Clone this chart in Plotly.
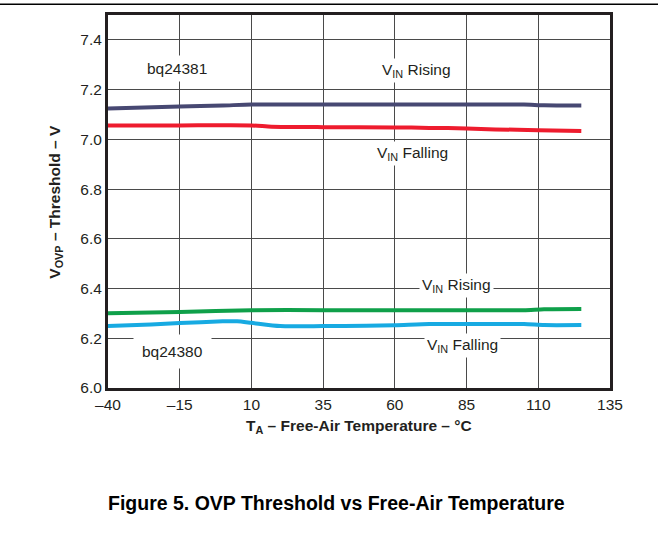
import plotly.graph_objects as go

# ---- data ----
temp_381_rising = [-40, -15, 0, 10, 35, 60, 85, 105, 112, 125]
vovp_381_rising = [7.124, 7.132, 7.136, 7.140, 7.140, 7.140, 7.140, 7.140, 7.137, 7.136]

temp_381_falling = [-40, -15, 10, 17, 35, 60, 72, 85, 95, 110, 125]
vovp_381_falling = [7.056, 7.056, 7.056, 7.051, 7.049, 7.048, 7.046, 7.044, 7.040, 7.037, 7.034]

temp_380_rising = [-40, -15, 10, 35, 60, 85, 105, 112, 125]
vovp_380_rising = [6.301, 6.306, 6.313, 6.313, 6.313, 6.313, 6.313, 6.317, 6.318]

temp_380_falling = [-40, -25, -15, 0, 5, 10, 20, 35, 50, 60, 72, 85, 105, 112, 125]
vovp_380_falling = [6.249, 6.255, 6.261, 6.268, 6.268, 6.262, 6.249, 6.249, 6.250, 6.252, 6.257, 6.257, 6.257, 6.253, 6.253]

x_ticks = [-40, -15, 10, 35, 60, 85, 110, 135]
x_tick_labels = ["–40", "–15", "10", "35", "60", "85", "110", "135"]
y_ticks = [6.0, 6.2, 6.4, 6.6, 6.8, 7.0, 7.2, 7.4]

FONT = "Liberation Sans, Arial, sans-serif"
TXT = "#231f20"
FS = 15.5

fig = go.Figure()
for xs, ys, col in [
    (temp_381_rising, vovp_381_rising, "#474872"),
    (temp_381_falling, vovp_381_falling, "#ee1c2e"),
    (temp_380_rising, vovp_380_rising, "#0fa04a"),
    (temp_380_falling, vovp_380_falling, "#17aae2"),
]:
    fig.add_trace(go.Scatter(x=xs, y=ys, mode="lines",
                             line=dict(color=col, width=4, shape="spline", smoothing=0.6),
                             showlegend=False, hoverinfo="skip"))

def label(x, y, text, pad=2):
    fig.add_annotation(x=x, y=y, text=text, showarrow=False,
                       font=dict(family=FONT, size=FS, color=TXT),
                       bgcolor="white", borderpad=pad, xanchor="center", yanchor="middle")

label(-16, 7.283, "bq24381", pad=4)
label(67.5, 7.278, "V<sub>IN</sub> Rising")
label(66, 6.945, "V<sub>IN</sub> Falling")
label(81.5, 6.413, "V<sub>IN</sub> Rising")
label(83.5, 6.172, "V<sub>IN</sub> Falling")
label(-17.5, 6.146, "bq24380", pad=8)

# axis titles and caption
fig.add_annotation(xref="paper", yref="paper", x=0.5, y=-0.104,
                   text="<b>T<sub>A</sub> – Free-Air Temperature – °C</b>",
                   showarrow=False, font=dict(family=FONT, size=FS, color=TXT),
                   xanchor="center", yanchor="middle")
fig.add_annotation(xref="paper", yref="paper", x=-0.104, y=0.499,
                   text="<b>V<sub>OVP</sub> – Threshold – V</b>", textangle=-90,
                   showarrow=False, font=dict(family=FONT, size=FS, color=TXT),
                   xanchor="center", yanchor="middle")
fig.add_annotation(xref="paper", yref="paper", x=0.455, y=-0.307,
                   text="<b>Figure 5. OVP Threshold vs Free-Air Temperature</b>",
                   showarrow=False, font=dict(family=FONT, size=19.5, color="#000"),
                   xanchor="center", yanchor="middle")

# page top rule
fig.add_shape(type="line", xref="paper", yref="paper",
              x0=-0.3, x1=1.2, y0=1.029, y1=1.029, line=dict(color="black", width=1.5))

fig.update_xaxes(range=[-40, 135], tickvals=x_ticks, ticktext=x_tick_labels,
                 showgrid=True, gridcolor="#4a4a4a", gridwidth=1,
                 showline=True, linecolor="#231f20", linewidth=3, mirror=True,
                 ticks="", zeroline=False,
                 tickfont=dict(family=FONT, size=FS, color=TXT))
fig.update_yaxes(range=[6.0, 7.5], tickvals=y_ticks,
                 ticktext=[f"{v:.1f}" for v in y_ticks],
                 showgrid=True, gridcolor="#4a4a4a", gridwidth=1,
                 showline=True, linecolor="#231f20", linewidth=3, mirror=True,
                 ticks="", zeroline=False,
                 tickfont=dict(family=FONT, size=FS, color=TXT))

fig.update_layout(width=658, height=550,
                  margin=dict(l=108, r=48, t=13, b=162),
                  plot_bgcolor="white", paper_bgcolor="white")

fig.write_html("out.html", config={"displayModeBar": False},
               post_script="document.body.style.margin='0px';document.body.style.padding='0px';")
